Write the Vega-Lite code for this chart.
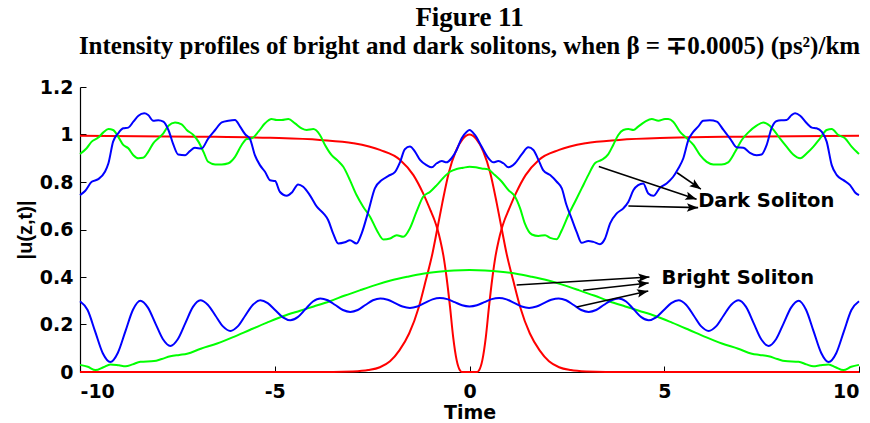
{
  "$schema": "https://vega.github.io/schema/vega-lite/v6.json",
  "width": 779,
  "height": 285,
  "autosize": {"type": "none"},
  "padding": {"left": 80, "top": 87, "right": 11, "bottom": 51},
  "title": {
    "text": "Figure 11",
    "subtitle": "Intensity profiles of bright and dark solitons, when β = ∓0.0005) (ps²)/km",
    "anchor": "middle",
    "font": "Liberation Serif",
    "fontSize": 27,
    "fontWeight": "bold",
    "color": "black",
    "subtitleFont": "Liberation Serif",
    "subtitleFontSize": 25,
    "subtitleFontWeight": "bold",
    "subtitleColor": "black",
    "subtitlePadding": 2,
    "offset": 18
  },
  "config": {
    "view": {"stroke": null},
    "axis": {
      "grid": false,
      "domainColor": "black",
      "domainWidth": 1.2,
      "tickColor": "black",
      "tickSize": -6,
      "labelColor": "black",
      "labelFont": "DejaVu Sans",
      "labelFontSize": 19,
      "labelFontWeight": "bold",
      "titleColor": "black",
      "titleFont": "DejaVu Sans",
      "titleFontSize": 19,
      "titleFontWeight": "bold"
    },
    "axisX": {"labelPadding": 16, "titleY": 40, "titleBaseline": "middle"},
    "axisY": {"labelPadding": 13, "titleX": -55, "titleY": 142.5, "titleBaseline": "middle", "titleFont": "Liberation Sans", "titleFontSize": 20}
  },
  "datasets": {
    "redBright": [
      {"t": -10, "u": 0}, {"t": -3.5, "u": 0}, {"t": -3, "u": 0.002}, {"t": -2.6, "u": 0.008}, {"t": -2.3, "u": 0.02}, {"t": -2.04, "u": 0.045}, {"t": -1.8, "u": 0.091}, {"t": -1.55, "u": 0.162}, {"t": -1.3, "u": 0.274}, {"t": -1.12, "u": 0.387}, {"t": -0.95, "u": 0.5}, {"t": -0.83, "u": 0.6}, {"t": -0.7, "u": 0.71}, {"t": -0.53, "u": 0.84}, {"t": -0.35, "u": 0.93}, {"t": -0.17, "u": 0.982}, {"t": 0, "u": 1},
      {"t": 0.17, "u": 0.982}, {"t": 0.35, "u": 0.93}, {"t": 0.53, "u": 0.84}, {"t": 0.7, "u": 0.71}, {"t": 0.83, "u": 0.6}, {"t": 0.95, "u": 0.5}, {"t": 1.12, "u": 0.387}, {"t": 1.3, "u": 0.274}, {"t": 1.55, "u": 0.162}, {"t": 1.8, "u": 0.091}, {"t": 2.04, "u": 0.045}, {"t": 2.3, "u": 0.02}, {"t": 2.6, "u": 0.008}, {"t": 3, "u": 0.002}, {"t": 3.5, "u": 0}, {"t": 10, "u": 0}
    ],
    "redDark": [
      {"t": -10, "u": 0.995}, {"t": -7, "u": 0.991}, {"t": -5.12, "u": 0.986}, {"t": -3.84, "u": 0.977}, {"t": -2.98, "u": 0.963}, {"t": -2.3, "u": 0.935}, {"t": -1.78, "u": 0.893}, {"t": -1.44, "u": 0.829}, {"t": -1.19, "u": 0.752}, {"t": -1, "u": 0.68}, {"t": -0.9, "u": 0.64}, {"t": -0.82, "u": 0.6}, {"t": -0.75, "u": 0.555}, {"t": -0.67, "u": 0.49}, {"t": -0.59, "u": 0.4}, {"t": -0.5, "u": 0.274}, {"t": -0.42, "u": 0.148}, {"t": -0.33, "u": 0.05}, {"t": -0.25, "u": 0.008}, {"t": -0.2, "u": 0}, {"t": 0, "u": 0},
      {"t": 0.2, "u": 0}, {"t": 0.25, "u": 0.008}, {"t": 0.33, "u": 0.05}, {"t": 0.42, "u": 0.148}, {"t": 0.5, "u": 0.274}, {"t": 0.59, "u": 0.4}, {"t": 0.67, "u": 0.49}, {"t": 0.75, "u": 0.555}, {"t": 0.82, "u": 0.6}, {"t": 0.9, "u": 0.64}, {"t": 1, "u": 0.68}, {"t": 1.19, "u": 0.752}, {"t": 1.44, "u": 0.829}, {"t": 1.78, "u": 0.893}, {"t": 2.3, "u": 0.935}, {"t": 2.98, "u": 0.963}, {"t": 3.84, "u": 0.977}, {"t": 5.12, "u": 0.986}, {"t": 7, "u": 0.991}, {"t": 10, "u": 0.995}
    ],
    "greenBright": [
      {"t": -10, "u": 0.03}, {"t": -9.8, "u": 0.022}, {"t": -9.6, "u": 0.008}, {"t": -9.4, "u": 0.02}, {"t": -9.22, "u": 0.032}, {"t": -9, "u": 0.028}, {"t": -8.83, "u": 0.024}, {"t": -8.65, "u": 0.032}, {"t": -8.45, "u": 0.043}, {"t": -8.1, "u": 0.046}, {"t": -7.9, "u": 0.055}, {"t": -7.68, "u": 0.066}, {"t": -7.45, "u": 0.072}, {"t": -7.25, "u": 0.077}, {"t": -6.9, "u": 0.098}, {"t": -6.48, "u": 0.12}, {"t": -6.05, "u": 0.148}, {"t": -5.63, "u": 0.178}, {"t": -5.2, "u": 0.208}, {"t": -4.77, "u": 0.236}, {"t": -4.35, "u": 0.258}, {"t": -4, "u": 0.276}, {"t": -3.6, "u": 0.297}, {"t": -3.2, "u": 0.322}, {"t": -2.8, "u": 0.345}, {"t": -2.4, "u": 0.367}, {"t": -2, "u": 0.386}, {"t": -1.6, "u": 0.401}, {"t": -1.2, "u": 0.414}, {"t": -0.8, "u": 0.422}, {"t": -0.4, "u": 0.427}, {"t": 0, "u": 0.429},
      {"t": 0.4, "u": 0.427}, {"t": 0.8, "u": 0.422}, {"t": 1.2, "u": 0.414}, {"t": 1.6, "u": 0.401}, {"t": 2, "u": 0.386}, {"t": 2.4, "u": 0.367}, {"t": 2.8, "u": 0.345}, {"t": 3.2, "u": 0.322}, {"t": 3.6, "u": 0.297}, {"t": 4, "u": 0.276}, {"t": 4.35, "u": 0.258}, {"t": 4.77, "u": 0.236}, {"t": 5.2, "u": 0.208}, {"t": 5.63, "u": 0.178}, {"t": 6.05, "u": 0.148}, {"t": 6.48, "u": 0.12}, {"t": 6.9, "u": 0.098}, {"t": 7.25, "u": 0.077}, {"t": 7.45, "u": 0.072}, {"t": 7.68, "u": 0.066}, {"t": 7.9, "u": 0.055}, {"t": 8.1, "u": 0.046}, {"t": 8.45, "u": 0.043}, {"t": 8.65, "u": 0.032}, {"t": 8.83, "u": 0.024}, {"t": 9, "u": 0.028}, {"t": 9.22, "u": 0.032}, {"t": 9.4, "u": 0.02}, {"t": 9.6, "u": 0.008}, {"t": 9.8, "u": 0.022}, {"t": 10, "u": 0.03}
    ],
    "greenDark": [
      {"t": -10, "u": 0.918}, {"t": -9.83, "u": 0.942}, {"t": -9.7, "u": 0.97}, {"t": -9.53, "u": 0.987}, {"t": -9.4, "u": 1.009}, {"t": -9.27, "u": 1.023}, {"t": -9.15, "u": 1.019}, {"t": -9.02, "u": 0.991}, {"t": -8.89, "u": 0.956}, {"t": -8.76, "u": 0.942}, {"t": -8.63, "u": 0.913}, {"t": -8.5, "u": 0.9}, {"t": -8.38, "u": 0.902}, {"t": -8.25, "u": 0.927}, {"t": -8.12, "u": 0.963}, {"t": -7.99, "u": 0.984}, {"t": -7.86, "u": 1.005}, {"t": -7.73, "u": 1.037}, {"t": -7.56, "u": 1.051}, {"t": -7.39, "u": 1.043}, {"t": -7.26, "u": 1.019}, {"t": -7.09, "u": 0.998}, {"t": -6.96, "u": 0.97}, {"t": -6.83, "u": 0.927}, {"t": -6.71, "u": 0.885}, {"t": -6.53, "u": 0.874}, {"t": -6.36, "u": 0.874}, {"t": -6.19, "u": 0.879}, {"t": -6.02, "u": 0.906}, {"t": -5.85, "u": 0.956}, {"t": -5.72, "u": 0.981}, {"t": -5.59, "u": 0.984}, {"t": -5.42, "u": 1.012}, {"t": -5.25, "u": 1.047}, {"t": -5.08, "u": 1.065}, {"t": -4.95, "u": 1.061}, {"t": -4.82, "u": 1.061}, {"t": -4.65, "u": 1.065}, {"t": -4.48, "u": 1.047}, {"t": -4.31, "u": 1.026}, {"t": -4.18, "u": 1.019}, {"t": -4.01, "u": 1.023}, {"t": -3.84, "u": 0.998}, {"t": -3.71, "u": 0.956}, {"t": -3.54, "u": 0.913}, {"t": -3.37, "u": 0.888}, {"t": -3.24, "u": 0.864}, {"t": -3.07, "u": 0.808}, {"t": -2.9, "u": 0.745}, {"t": -2.73, "u": 0.696}, {"t": -2.55, "u": 0.653}, {"t": -2.38, "u": 0.597}, {"t": -2.21, "u": 0.558}, {"t": -2.04, "u": 0.562}, {"t": -1.87, "u": 0.576}, {"t": -1.7, "u": 0.569}, {"t": -1.53, "u": 0.605}, {"t": -1.36, "u": 0.675}, {"t": -1.19, "u": 0.738}, {"t": -1.01, "u": 0.759}, {"t": -0.84, "u": 0.787}, {"t": -0.67, "u": 0.818}, {"t": -0.5, "u": 0.843}, {"t": -0.33, "u": 0.855}, {"t": -0.16, "u": 0.86}, {"t": 0, "u": 0.864},
      {"t": 0.16, "u": 0.862}, {"t": 0.31, "u": 0.857}, {"t": 0.48, "u": 0.853}, {"t": 0.65, "u": 0.829}, {"t": 0.83, "u": 0.801}, {"t": 1, "u": 0.766}, {"t": 1.17, "u": 0.738}, {"t": 1.3, "u": 0.689}, {"t": 1.42, "u": 0.626}, {"t": 1.6, "u": 0.579}, {"t": 1.77, "u": 0.573}, {"t": 1.94, "u": 0.576}, {"t": 2.07, "u": 0.565}, {"t": 2.24, "u": 0.559}, {"t": 2.37, "u": 0.597}, {"t": 2.54, "u": 0.661}, {"t": 2.71, "u": 0.717}, {"t": 2.88, "u": 0.773}, {"t": 3.05, "u": 0.829}, {"t": 3.22, "u": 0.879}, {"t": 3.39, "u": 0.893}, {"t": 3.56, "u": 0.916}, {"t": 3.69, "u": 0.956}, {"t": 3.82, "u": 0.998}, {"t": 3.95, "u": 1.019}, {"t": 4.08, "u": 1.023}, {"t": 4.21, "u": 1.019}, {"t": 4.33, "u": 1.033}, {"t": 4.51, "u": 1.054}, {"t": 4.68, "u": 1.065}, {"t": 4.85, "u": 1.058}, {"t": 5.02, "u": 1.065}, {"t": 5.1, "u": 1.065}, {"t": 5.23, "u": 1.054}, {"t": 5.4, "u": 1.012}, {"t": 5.58, "u": 0.984}, {"t": 5.75, "u": 0.956}, {"t": 5.92, "u": 0.913}, {"t": 6.09, "u": 0.885}, {"t": 6.26, "u": 0.874}, {"t": 6.47, "u": 0.874}, {"t": 6.64, "u": 0.883}, {"t": 6.82, "u": 0.927}, {"t": 6.99, "u": 0.977}, {"t": 7.16, "u": 1.009}, {"t": 7.37, "u": 1.037}, {"t": 7.54, "u": 1.051}, {"t": 7.71, "u": 1.037}, {"t": 7.84, "u": 1.012}, {"t": 7.97, "u": 0.984}, {"t": 8.14, "u": 0.949}, {"t": 8.31, "u": 0.916}, {"t": 8.49, "u": 0.9}, {"t": 8.66, "u": 0.921}, {"t": 8.83, "u": 0.949}, {"t": 9, "u": 0.984}, {"t": 9.17, "u": 1.019}, {"t": 9.3, "u": 1.023}, {"t": 9.47, "u": 0.998}, {"t": 9.64, "u": 0.984}, {"t": 9.81, "u": 0.949}, {"t": 9.94, "u": 0.927}, {"t": 10, "u": 0.918}
    ],
    "blueBright": [
      {"t": -10, "u": 0.298}, {"t": -9.805, "u": 0.261}, {"t": -9.61, "u": 0.17}, {"t": -9.415, "u": 0.079}, {"t": -9.22, "u": 0.042}, {"t": -9.03, "u": 0.08}, {"t": -8.835, "u": 0.171}, {"t": -8.64, "u": 0.262}, {"t": -8.45, "u": 0.3}, {"t": -8.26, "u": 0.272}, {"t": -8.065, "u": 0.205}, {"t": -7.87, "u": 0.138}, {"t": -7.68, "u": 0.11}, {"t": -7.49, "u": 0.138}, {"t": -7.295, "u": 0.206}, {"t": -7.1, "u": 0.274}, {"t": -6.91, "u": 0.302}, {"t": -6.72, "u": 0.283}, {"t": -6.525, "u": 0.238}, {"t": -6.33, "u": 0.192}, {"t": -6.14, "u": 0.173}, {"t": -5.95, "u": 0.192}, {"t": -5.755, "u": 0.238}, {"t": -5.56, "u": 0.283}, {"t": -5.37, "u": 0.302}, {"t": -5.18, "u": 0.29}, {"t": -4.985, "u": 0.26}, {"t": -4.79, "u": 0.23}, {"t": -4.6, "u": 0.218}, {"t": -4.41, "u": 0.231}, {"t": -4.215, "u": 0.264}, {"t": -4.02, "u": 0.297}, {"t": -3.83, "u": 0.31}, {"t": -3.64, "u": 0.302}, {"t": -3.445, "u": 0.282}, {"t": -3.25, "u": 0.261}, {"t": -3.06, "u": 0.253}, {"t": -2.87, "u": 0.261}, {"t": -2.675, "u": 0.282}, {"t": -2.48, "u": 0.302}, {"t": -2.29, "u": 0.31}, {"t": -2.1, "u": 0.304}, {"t": -1.91, "u": 0.29}, {"t": -1.72, "u": 0.276}, {"t": -1.53, "u": 0.27}, {"t": -1.34, "u": 0.276}, {"t": -1.145, "u": 0.291}, {"t": -0.95, "u": 0.306}, {"t": -0.76, "u": 0.312}, {"t": -0.57, "u": 0.307}, {"t": -0.38, "u": 0.294}, {"t": -0.19, "u": 0.281}, {"t": 0, "u": 0.276},
      {"t": 0.19, "u": 0.281}, {"t": 0.38, "u": 0.294}, {"t": 0.57, "u": 0.307}, {"t": 0.76, "u": 0.312}, {"t": 0.95, "u": 0.306}, {"t": 1.145, "u": 0.291}, {"t": 1.34, "u": 0.276}, {"t": 1.53, "u": 0.27}, {"t": 1.72, "u": 0.276}, {"t": 1.91, "u": 0.29}, {"t": 2.1, "u": 0.304}, {"t": 2.29, "u": 0.31}, {"t": 2.48, "u": 0.302}, {"t": 2.675, "u": 0.282}, {"t": 2.87, "u": 0.261}, {"t": 3.06, "u": 0.253}, {"t": 3.25, "u": 0.261}, {"t": 3.445, "u": 0.282}, {"t": 3.64, "u": 0.302}, {"t": 3.83, "u": 0.31}, {"t": 4.02, "u": 0.297}, {"t": 4.215, "u": 0.264}, {"t": 4.41, "u": 0.231}, {"t": 4.6, "u": 0.218}, {"t": 4.79, "u": 0.23}, {"t": 4.985, "u": 0.26}, {"t": 5.18, "u": 0.29}, {"t": 5.37, "u": 0.302}, {"t": 5.56, "u": 0.283}, {"t": 5.755, "u": 0.238}, {"t": 5.95, "u": 0.192}, {"t": 6.14, "u": 0.173}, {"t": 6.33, "u": 0.192}, {"t": 6.525, "u": 0.238}, {"t": 6.72, "u": 0.283}, {"t": 6.91, "u": 0.302}, {"t": 7.1, "u": 0.274}, {"t": 7.295, "u": 0.206}, {"t": 7.49, "u": 0.138}, {"t": 7.68, "u": 0.11}, {"t": 7.87, "u": 0.138}, {"t": 8.065, "u": 0.205}, {"t": 8.26, "u": 0.272}, {"t": 8.45, "u": 0.3}, {"t": 8.64, "u": 0.262}, {"t": 8.835, "u": 0.171}, {"t": 9.03, "u": 0.08}, {"t": 9.22, "u": 0.042}, {"t": 9.415, "u": 0.079}, {"t": 9.61, "u": 0.17}, {"t": 9.805, "u": 0.261}, {"t": 10, "u": 0.298}
    ],
    "blueDark": [
      {"t": -10, "u": 0.745}, {"t": -9.87, "u": 0.762}, {"t": -9.7, "u": 0.801}, {"t": -9.53, "u": 0.812}, {"t": -9.36, "u": 0.843}, {"t": -9.27, "u": 0.879}, {"t": -9.15, "u": 0.97}, {"t": -9.02, "u": 1.005}, {"t": -8.89, "u": 1.026}, {"t": -8.76, "u": 1.029}, {"t": -8.63, "u": 1.054}, {"t": -8.5, "u": 1.079}, {"t": -8.35, "u": 1.089}, {"t": -8.25, "u": 1.082}, {"t": -8.12, "u": 1.058}, {"t": -7.99, "u": 1.06}, {"t": -7.86, "u": 1.054}, {"t": -7.73, "u": 1.019}, {"t": -7.6, "u": 0.956}, {"t": -7.48, "u": 0.916}, {"t": -7.3, "u": 0.913}, {"t": -7.18, "u": 0.93}, {"t": -7.05, "u": 0.944}, {"t": -6.88, "u": 0.941}, {"t": -6.71, "u": 0.983}, {"t": -6.53, "u": 1.019}, {"t": -6.36, "u": 1.051}, {"t": -6.19, "u": 1.058}, {"t": -6.02, "u": 1.061}, {"t": -5.89, "u": 1.033}, {"t": -5.76, "u": 1.001}, {"t": -5.64, "u": 0.983}, {"t": -5.51, "u": 0.913}, {"t": -5.38, "u": 0.871}, {"t": -5.25, "u": 0.843}, {"t": -5.12, "u": 0.807}, {"t": -4.99, "u": 0.804}, {"t": -4.87, "u": 0.759}, {"t": -4.69, "u": 0.742}, {"t": -4.56, "u": 0.756}, {"t": -4.4, "u": 0.79}, {"t": -4.27, "u": 0.78}, {"t": -4.1, "u": 0.745}, {"t": -3.92, "u": 0.696}, {"t": -3.75, "u": 0.668}, {"t": -3.63, "u": 0.64}, {"t": -3.5, "u": 0.583}, {"t": -3.37, "u": 0.541}, {"t": -3.2, "u": 0.546}, {"t": -3.07, "u": 0.555}, {"t": -2.9, "u": 0.541}, {"t": -2.77, "u": 0.583}, {"t": -2.6, "u": 0.675}, {"t": -2.43, "u": 0.773}, {"t": -2.25, "u": 0.808}, {"t": -2.08, "u": 0.826}, {"t": -1.91, "u": 0.843}, {"t": -1.78, "u": 0.885}, {"t": -1.66, "u": 0.938}, {"t": -1.53, "u": 0.949}, {"t": -1.4, "u": 0.928}, {"t": -1.27, "u": 0.893}, {"t": -1.1, "u": 0.871}, {"t": -0.97, "u": 0.862}, {"t": -0.84, "u": 0.879}, {"t": -0.71, "u": 0.888}, {"t": -0.59, "u": 0.883}, {"t": -0.46, "u": 0.9}, {"t": -0.33, "u": 0.935}, {"t": -0.2, "u": 0.984}, {"t": -0.07, "u": 1.012}, {"t": 0, "u": 1.019},
      {"t": 0.14, "u": 0.998}, {"t": 0.31, "u": 0.949}, {"t": 0.48, "u": 0.902}, {"t": 0.61, "u": 0.883}, {"t": 0.74, "u": 0.888}, {"t": 0.87, "u": 0.879}, {"t": 1, "u": 0.862}, {"t": 1.17, "u": 0.879}, {"t": 1.34, "u": 0.916}, {"t": 1.51, "u": 0.946}, {"t": 1.64, "u": 0.935}, {"t": 1.77, "u": 0.893}, {"t": 1.89, "u": 0.85}, {"t": 2.07, "u": 0.829}, {"t": 2.24, "u": 0.801}, {"t": 2.37, "u": 0.773}, {"t": 2.49, "u": 0.703}, {"t": 2.62, "u": 0.647}, {"t": 2.75, "u": 0.59}, {"t": 2.88, "u": 0.544}, {"t": 3.05, "u": 0.552}, {"t": 3.18, "u": 0.548}, {"t": 3.35, "u": 0.538}, {"t": 3.48, "u": 0.562}, {"t": 3.61, "u": 0.626}, {"t": 3.78, "u": 0.668}, {"t": 3.95, "u": 0.689}, {"t": 4.08, "u": 0.717}, {"t": 4.21, "u": 0.766}, {"t": 4.33, "u": 0.787}, {"t": 4.46, "u": 0.794}, {"t": 4.59, "u": 0.752}, {"t": 4.72, "u": 0.742}, {"t": 4.89, "u": 0.776}, {"t": 5.06, "u": 0.794}, {"t": 5.23, "u": 0.822}, {"t": 5.36, "u": 0.857}, {"t": 5.49, "u": 0.9}, {"t": 5.62, "u": 0.977}, {"t": 5.75, "u": 1.012}, {"t": 5.87, "u": 1.033}, {"t": 6, "u": 1.058}, {"t": 6.17, "u": 1.06}, {"t": 6.35, "u": 1.054}, {"t": 6.52, "u": 1.019}, {"t": 6.69, "u": 0.983}, {"t": 6.86, "u": 0.946}, {"t": 7.03, "u": 0.944}, {"t": 7.2, "u": 0.923}, {"t": 7.37, "u": 0.913}, {"t": 7.5, "u": 0.916}, {"t": 7.63, "u": 0.956}, {"t": 7.76, "u": 1.029}, {"t": 7.89, "u": 1.057}, {"t": 8.02, "u": 1.06}, {"t": 8.14, "u": 1.061}, {"t": 8.27, "u": 1.082}, {"t": 8.36, "u": 1.089}, {"t": 8.49, "u": 1.079}, {"t": 8.66, "u": 1.047}, {"t": 8.79, "u": 1.029}, {"t": 8.91, "u": 1.026}, {"t": 9.04, "u": 1.012}, {"t": 9.17, "u": 0.97}, {"t": 9.3, "u": 0.871}, {"t": 9.43, "u": 0.829}, {"t": 9.6, "u": 0.808}, {"t": 9.77, "u": 0.787}, {"t": 9.9, "u": 0.756}, {"t": 10, "u": 0.745}
    ],
    "arrows": [
      {"t1": 5.33, "u1": 0.839, "t2": 5.94, "u2": 0.77},
      {"t1": 3.32, "u1": 0.865, "t2": 5.83, "u2": 0.727},
      {"t1": 4.08, "u1": 0.699, "t2": 5.87, "u2": 0.692},
      {"t1": 1.21, "u1": 0.366, "t2": 4.62, "u2": 0.4},
      {"t1": 2.92, "u1": 0.344, "t2": 4.6, "u2": 0.375},
      {"t1": 2.75, "u1": 0.274, "t2": 4.59, "u2": 0.341}
    ],
    "labels": [
      {"label": "Dark Soliton", "t": 5.87, "u": 0.722},
      {"label": "Bright Soliton", "t": 4.93, "u": 0.396}
    ]
  },
  "layer": [
    {
      "data": {"name": "redBright"},
      "mark": {"type": "line", "interpolate": "monotone", "color": "#ff0000", "strokeWidth": 2},
      "encoding": {
        "x": {"field": "t", "type": "quantitative", "scale": {"domain": [-10, 10], "nice": false, "zero": false}, "title": "Time",
              "axis": {"values": [-10, -5, 0, 5, 10], "labelExpr": "datum.value + ''"}},
        "y": {"field": "u", "type": "quantitative", "scale": {"domain": [0, 1.2], "nice": false}, "title": "|u(z,t)|",
              "axis": {"values": [0, 0.2, 0.4, 0.6, 0.8, 1, 1.2], "labelExpr": "datum.value + ''"}}
      }
    },
    {
      "data": {"name": "redDark"},
      "mark": {"type": "line", "interpolate": "monotone", "color": "#ff0000", "strokeWidth": 2},
      "encoding": {
        "x": {"field": "t", "type": "quantitative", "title": "Time"},
        "y": {"field": "u", "type": "quantitative", "title": "|u(z,t)|"}
      }
    },
    {
      "data": {"name": "greenBright"},
      "mark": {"type": "line", "interpolate": "monotone", "color": "#00ff00", "strokeWidth": 2},
      "encoding": {
        "x": {"field": "t", "type": "quantitative", "title": "Time"},
        "y": {"field": "u", "type": "quantitative", "title": "|u(z,t)|"}
      }
    },
    {
      "data": {"name": "greenDark"},
      "mark": {"type": "line", "interpolate": "monotone", "color": "#00ff00", "strokeWidth": 2},
      "encoding": {
        "x": {"field": "t", "type": "quantitative", "title": "Time"},
        "y": {"field": "u", "type": "quantitative", "title": "|u(z,t)|"}
      }
    },
    {
      "data": {"name": "blueBright"},
      "mark": {"type": "line", "interpolate": "monotone", "color": "#0000ff", "strokeWidth": 2},
      "encoding": {
        "x": {"field": "t", "type": "quantitative", "title": "Time"},
        "y": {"field": "u", "type": "quantitative", "title": "|u(z,t)|"}
      }
    },
    {
      "data": {"name": "blueDark"},
      "mark": {"type": "line", "interpolate": "monotone", "color": "#0000ff", "strokeWidth": 2},
      "encoding": {
        "x": {"field": "t", "type": "quantitative", "title": "Time"},
        "y": {"field": "u", "type": "quantitative", "title": "|u(z,t)|"}
      }
    },
    {
      "data": {"name": "arrows"},
      "mark": {"type": "rule", "color": "black", "strokeWidth": 1.6},
      "encoding": {
        "x": {"field": "t1", "type": "quantitative", "title": "Time"},
        "y": {"field": "u1", "type": "quantitative", "title": "|u(z,t)|"},
        "x2": {"field": "t2"},
        "y2": {"field": "u2"}
      }
    },
    {
      "data": {"name": "arrows"},
      "transform": [
        {"calculate": "atan2((datum.u1 - datum.u2) * 237.5, (datum.t2 - datum.t1) * 38.95) * 180 / PI", "as": "angle"}
      ],
      "mark": {"type": "point", "shape": "M0,0L-1,-0.38L-0.8,0L-1,0.38Z", "filled": true, "color": "black", "opacity": 1, "size": 500},
      "encoding": {
        "x": {"field": "t2", "type": "quantitative", "title": "Time"},
        "y": {"field": "u2", "type": "quantitative", "title": "|u(z,t)|"},
        "angle": {"field": "angle", "type": "quantitative", "scale": null}
      }
    },
    {
      "data": {"name": "labels"},
      "mark": {"type": "text", "align": "left", "baseline": "middle", "font": "DejaVu Sans", "fontWeight": "bold", "fontSize": 19.5, "color": "black"},
      "encoding": {
        "x": {"field": "t", "type": "quantitative", "title": "Time"},
        "y": {"field": "u", "type": "quantitative", "title": "|u(z,t)|"},
        "text": {"field": "label"}
      }
    }
  ]
}
